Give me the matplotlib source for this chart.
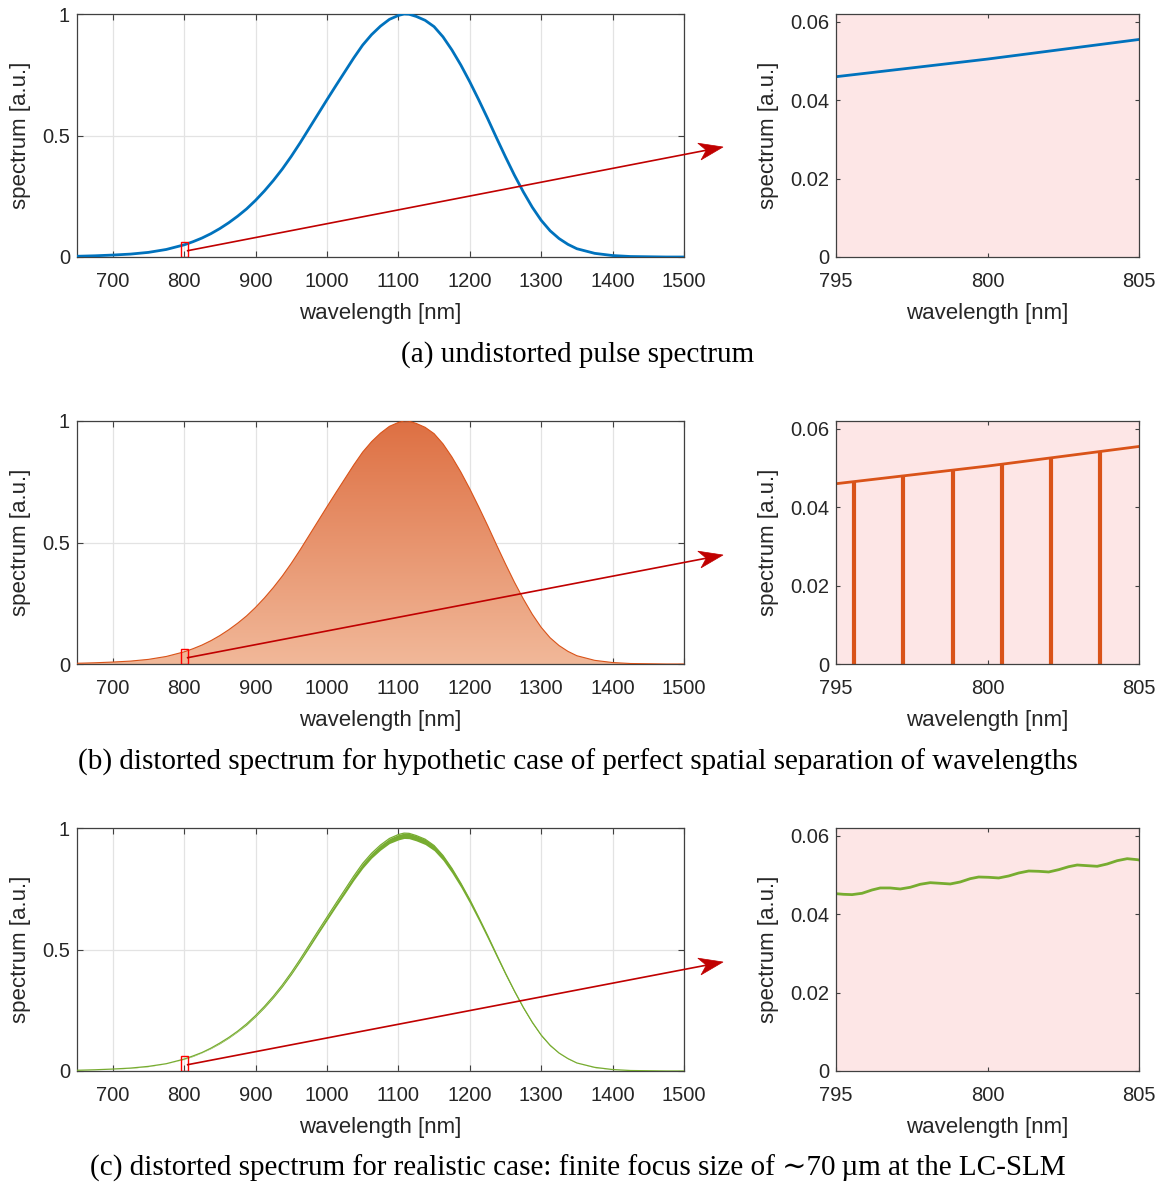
import numpy as np
import matplotlib
matplotlib.use('Agg')
import matplotlib.pyplot as plt
from matplotlib.patches import Rectangle, Polygon
from matplotlib.colors import LinearSegmentedColormap

plt.rcParams['font.family'] = ['Liberation Sans', 'DejaVu Sans']

# spectrum envelope (wavelength in nm, normalised value)
wl = [650, 675, 700, 725, 750, 775, 800,
      812.5, 825, 837.5, 850, 862.5, 875, 887.5, 900, 912.5, 925, 937.5, 950,
      962.5, 975, 987.5, 1000, 1012.5, 1025, 1037.5, 1050, 1062.5, 1075, 1087.5, 1100,
      1108, 1115,
      1125, 1137.5, 1150, 1162.5, 1175, 1187.5, 1200, 1212.5, 1225, 1237.5, 1250,
      1262.5, 1275, 1287.5, 1300, 1312.5, 1325, 1337.5, 1350,
      1375, 1400, 1425, 1450, 1475, 1500]
spec = [0.003, 0.005, 0.008, 0.012, 0.019, 0.031, 0.050,
        0.063, 0.078, 0.096, 0.117, 0.141, 0.168, 0.198, 0.233, 0.272, 0.315, 0.362, 0.414,
        0.470, 0.529, 0.588, 0.647, 0.705, 0.762, 0.819, 0.872, 0.915, 0.950, 0.978, 0.994,
        1.000, 0.999,
        0.990, 0.974, 0.948, 0.906, 0.852, 0.790, 0.721, 0.647, 0.570, 0.490, 0.412,
        0.337, 0.268, 0.205, 0.151, 0.108, 0.076, 0.052, 0.034,
        0.015, 0.006, 0.002, 0.001, 0.000, 0.000]

# realistic case: band of the oscillating green curve (upper / lower edge)
green_hi = [0.003, 0.005, 0.008, 0.012, 0.019, 0.030, 0.049,
            0.062, 0.076, 0.094, 0.115, 0.138, 0.164, 0.194, 0.228, 0.266, 0.308, 0.354, 0.405,
            0.460, 0.518, 0.576, 0.633, 0.690, 0.746, 0.802, 0.854, 0.896, 0.930, 0.957, 0.973,
            0.979, 0.978,
            0.969, 0.954, 0.928, 0.887, 0.834, 0.773, 0.706, 0.633, 0.558, 0.480, 0.403,
            0.330, 0.262, 0.201, 0.148, 0.106, 0.074, 0.051, 0.033,
            0.015, 0.006, 0.002, 0.001, 0.000, 0.000]
green_lo = [0.003, 0.005, 0.008, 0.011, 0.018, 0.030, 0.048,
            0.060, 0.075, 0.092, 0.112, 0.135, 0.161, 0.189, 0.223, 0.260, 0.301, 0.346, 0.396,
            0.450, 0.506, 0.563, 0.619, 0.675, 0.729, 0.784, 0.834, 0.876, 0.909, 0.936, 0.951,
            0.957, 0.956,
            0.947, 0.932, 0.907, 0.867, 0.815, 0.756, 0.690, 0.619, 0.545, 0.469, 0.394,
            0.323, 0.256, 0.196, 0.144, 0.103, 0.073, 0.050, 0.033,
            0.014, 0.006, 0.002, 0.001, 0.000, 0.000]

# zoomed window 795..805 nm
zoom_wl = [795, 800, 805]
zoom_spec = [0.0460, 0.0505, 0.0555]
comb_wl = [795.60, 797.22, 798.85, 800.48, 802.10, 803.72]
comb_top = [0.0466, 0.0480, 0.0494, 0.0509, 0.0524, 0.0540]
wig_wl = [795.00, 795.25, 795.53, 795.86, 796.19, 796.46, 796.79, 797.12,
          797.45, 797.78, 798.11, 798.44, 798.77, 799.10, 799.43, 799.71,
          800.04, 800.37, 800.70, 801.03, 801.36, 801.69, 802.02, 802.35,
          802.68, 802.96, 803.29, 803.62, 803.95, 804.28, 804.61, 804.94, 805.00]
wig_val = [0.04524, 0.04508, 0.04500, 0.04534, 0.04619, 0.04670, 0.04670, 0.04644,
           0.04687, 0.04764, 0.04805, 0.04789, 0.04772, 0.04823, 0.04907, 0.04950,
           0.04942, 0.04925, 0.04976, 0.05052, 0.05103, 0.05095, 0.05078, 0.05137,
           0.05213, 0.05256, 0.05239, 0.05223, 0.05282, 0.05366, 0.05417, 0.05392, 0.05384]

captions = ['(a) undistorted pulse spectrum',
            '(b) distorted spectrum for hypothetic case of perfect spatial separation of wavelengths',
            '(c) distorted spectrum for realistic case: finite focus size of \u223c70\u2009\u00b5m at the LC-SLM']

blue, orange, green = '#0072bd', '#d95319', '#77ac30'
axcol = '#404040'
txtcol = '#262626'
arrowcol = '#c00000'

W, H = 1166, 1187
fig = plt.figure(figsize=(W / 100, H / 100), dpi=100)

row_bottom = [257, 664, 1071]   # pixel rows of the axes bottoms
ax_h = 243
caption_y = [355, 762, 1168]
tips = [(723, 147), (723, 555), (723, 962)]


def style(ax, ticklen):
    for s in ax.spines.values():
        s.set_color(axcol)
        s.set_linewidth(0.9)
    ax.tick_params(direction='in', length=ticklen, width=0.8, color=axcol,
                   labelsize=14.5, labelcolor=txtcol, top=True, right=True)
    ax.tick_params(axis='x', pad=10.5)
    ax.tick_params(axis='y', pad=5)
    ax.set_xlabel('wavelength [nm]', fontsize=16, color=txtcol, labelpad=9)
    ax.set_ylabel('spectrum [a.u.]', fontsize=16, color=txtcol, labelpad=8)


def arrow(ax, start, tip_px):
    # straight line plus a dart-shaped head (drawn in figure pixels)
    x0, y0 = ax.transData.transform(start)
    x1, y1 = tip_px[0], H - tip_px[1]
    d = np.array([x1 - x0, y1 - y0])
    d = d / np.hypot(*d)
    n = np.array([-d[1], d[0]])
    tip = np.array([x1, y1])
    base = tip - 24 * d
    notch = tip - 17 * d
    fig.add_artist(plt.Line2D([x0, notch[0]], [y0, notch[1]], color=arrowcol, lw=1.2,
                              transform=None, zorder=5))
    fig.add_artist(Polygon([tip, base + 8.5 * n, notch, base - 8.5 * n], closed=True,
                           facecolor=arrowcol, edgecolor=arrowcol, lw=0.5,
                           transform=None, zorder=5))


for r in range(3):
    b = 1 - row_bottom[r] / H
    h = ax_h / H
    ax = fig.add_axes([77 / W, b, 607 / W, h])
    az = fig.add_axes([836 / W, b, 303 / W, h])

    # ---- main panel
    if r == 0:
        ax.plot(wl, spec, color=blue, lw=2, zorder=3)
    elif r == 1:
        grad = np.linspace(0, 1, 256).reshape(-1, 1)
        cmap = LinearSegmentedColormap.from_list('o', ['#f1b899', '#de7043'])
        im = ax.imshow(grad, extent=[650, 1500, 0, 1], origin='lower', cmap=cmap,
                       aspect='auto', zorder=2, interpolation='bilinear')
        poly = ax.fill_between(wl, 0, spec, facecolor='none', edgecolor='none')
        im.set_clip_path(poly.get_paths()[0], transform=ax.transData)
        ax.plot(wl, spec, color=orange, lw=0.8, zorder=3)
    else:
        ax.fill_between(wl, green_lo, green_hi, color=green, lw=0, zorder=3)
        ax.plot(wl, green_hi, color=green, lw=0.9, zorder=3)

    ax.add_patch(Rectangle((795, 0), 10, 0.062, fill=False, edgecolor='red', lw=1, zorder=4))
    ax.set_xlim(650, 1500)
    ax.set_ylim(0, 1)
    ax.set_xticks([700, 800, 900, 1000, 1100, 1200, 1300, 1400, 1500])
    ax.set_yticks([0, 0.5, 1])
    ax.set_yticklabels(['0', '0.5', '1'])
    ax.grid(True, color='#e3e3e3', lw=0.9, zorder=0)
    ax.set_axisbelow(True)
    style(ax, 4)

    # ---- zoom panel
    az.set_facecolor('#fde6e6')
    if r == 0:
        az.plot(zoom_wl, zoom_spec, color=blue, lw=2)
    elif r == 1:
        az.plot(zoom_wl, zoom_spec, color=orange, lw=2)
        az.vlines(comb_wl, 0, comb_top, color=orange, lw=3)
    else:
        az.plot(wig_wl, wig_val, color=green, lw=2)
    az.set_xlim(795, 805)
    az.set_ylim(0, 0.062)
    az.set_xticks([795, 800, 805])
    az.set_yticks([0, 0.02, 0.04, 0.06])
    az.set_yticklabels(['0', '0.02', '0.04', '0.06'])
    style(az, 3)

    arrow(ax, (805, 0.026), tips[r])

    fig.text(578 / W, 1 - caption_y[r] / H, captions[r], ha='center', va='center',
             fontsize=21, color='black', family=['Liberation Serif', 'DejaVu Serif'])

fig.savefig('out.png', dpi=100)
